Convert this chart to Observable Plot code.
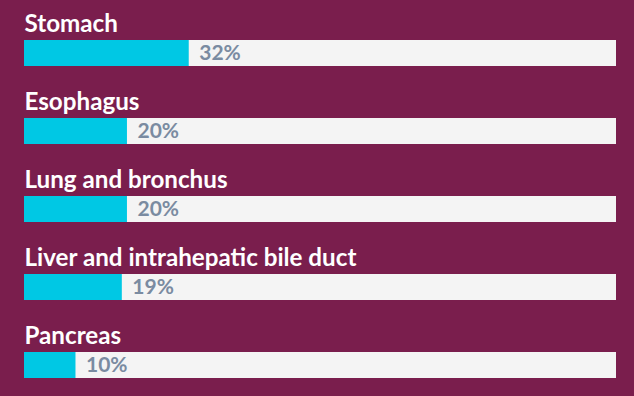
<!DOCTYPE html>
<html>
<head>
<meta charset="utf-8">
<script src="https://cdn.jsdelivr.net/npm/d3@7"></script>
<script src="https://cdn.jsdelivr.net/npm/@observablehq/plot@0.6"></script>
<style>
  html, body { margin: 0; padding: 0; background: #7a1e4d; }
  #chart svg { display: block; }
</style>
</head>
<body>
<div id="chart"></div>
<script>
const categories = ["Stomach", "Esophagus", "Lung and bronchus", "Liver and intrahepatic bile duct", "Pancreas"];
const values = [32, 20, 20, 19, 10];
const trackMax = 115;

const data = categories.map((c, i) => ({category: c, value: values[i]}));

const chart = Plot.plot({
  width: 634,
  height: 396,
  marginTop: 0,
  marginBottom: 6,
  marginLeft: 24,
  marginRight: 18,
  style: {background: "#7a1e4d", fontFamily: "Lato, sans-serif"},
  x: {domain: [0, trackMax], axis: null},
  y: {domain: categories, axis: null, padding: 0},
  marks: [
    Plot.barX(data, {y: "category", x1: 0, x2: () => trackMax, fill: "#f4f4f4", insetTop: 40, insetBottom: 12}),
    Plot.barX(data, {y: "category", x1: 0, x2: "value", fill: "#00c8e4", insetTop: 40, insetBottom: 12}),
    Plot.text(data, {y: "category", x: 0, text: "category", textAnchor: "start", lineAnchor: "bottom", dy: -7.5, fill: "white", fontWeight: "bold", fontSize: 24.2}),
    Plot.text(data, {y: "category", x: "value", text: d => d.value + "%", textAnchor: "start", lineAnchor: "middle", dx: 10, dy: 14, fill: "#7a8ba1", fontWeight: "bold", fontSize: 21})
  ]
});
document.getElementById("chart").append(chart);
</script>
</body>
</html>
